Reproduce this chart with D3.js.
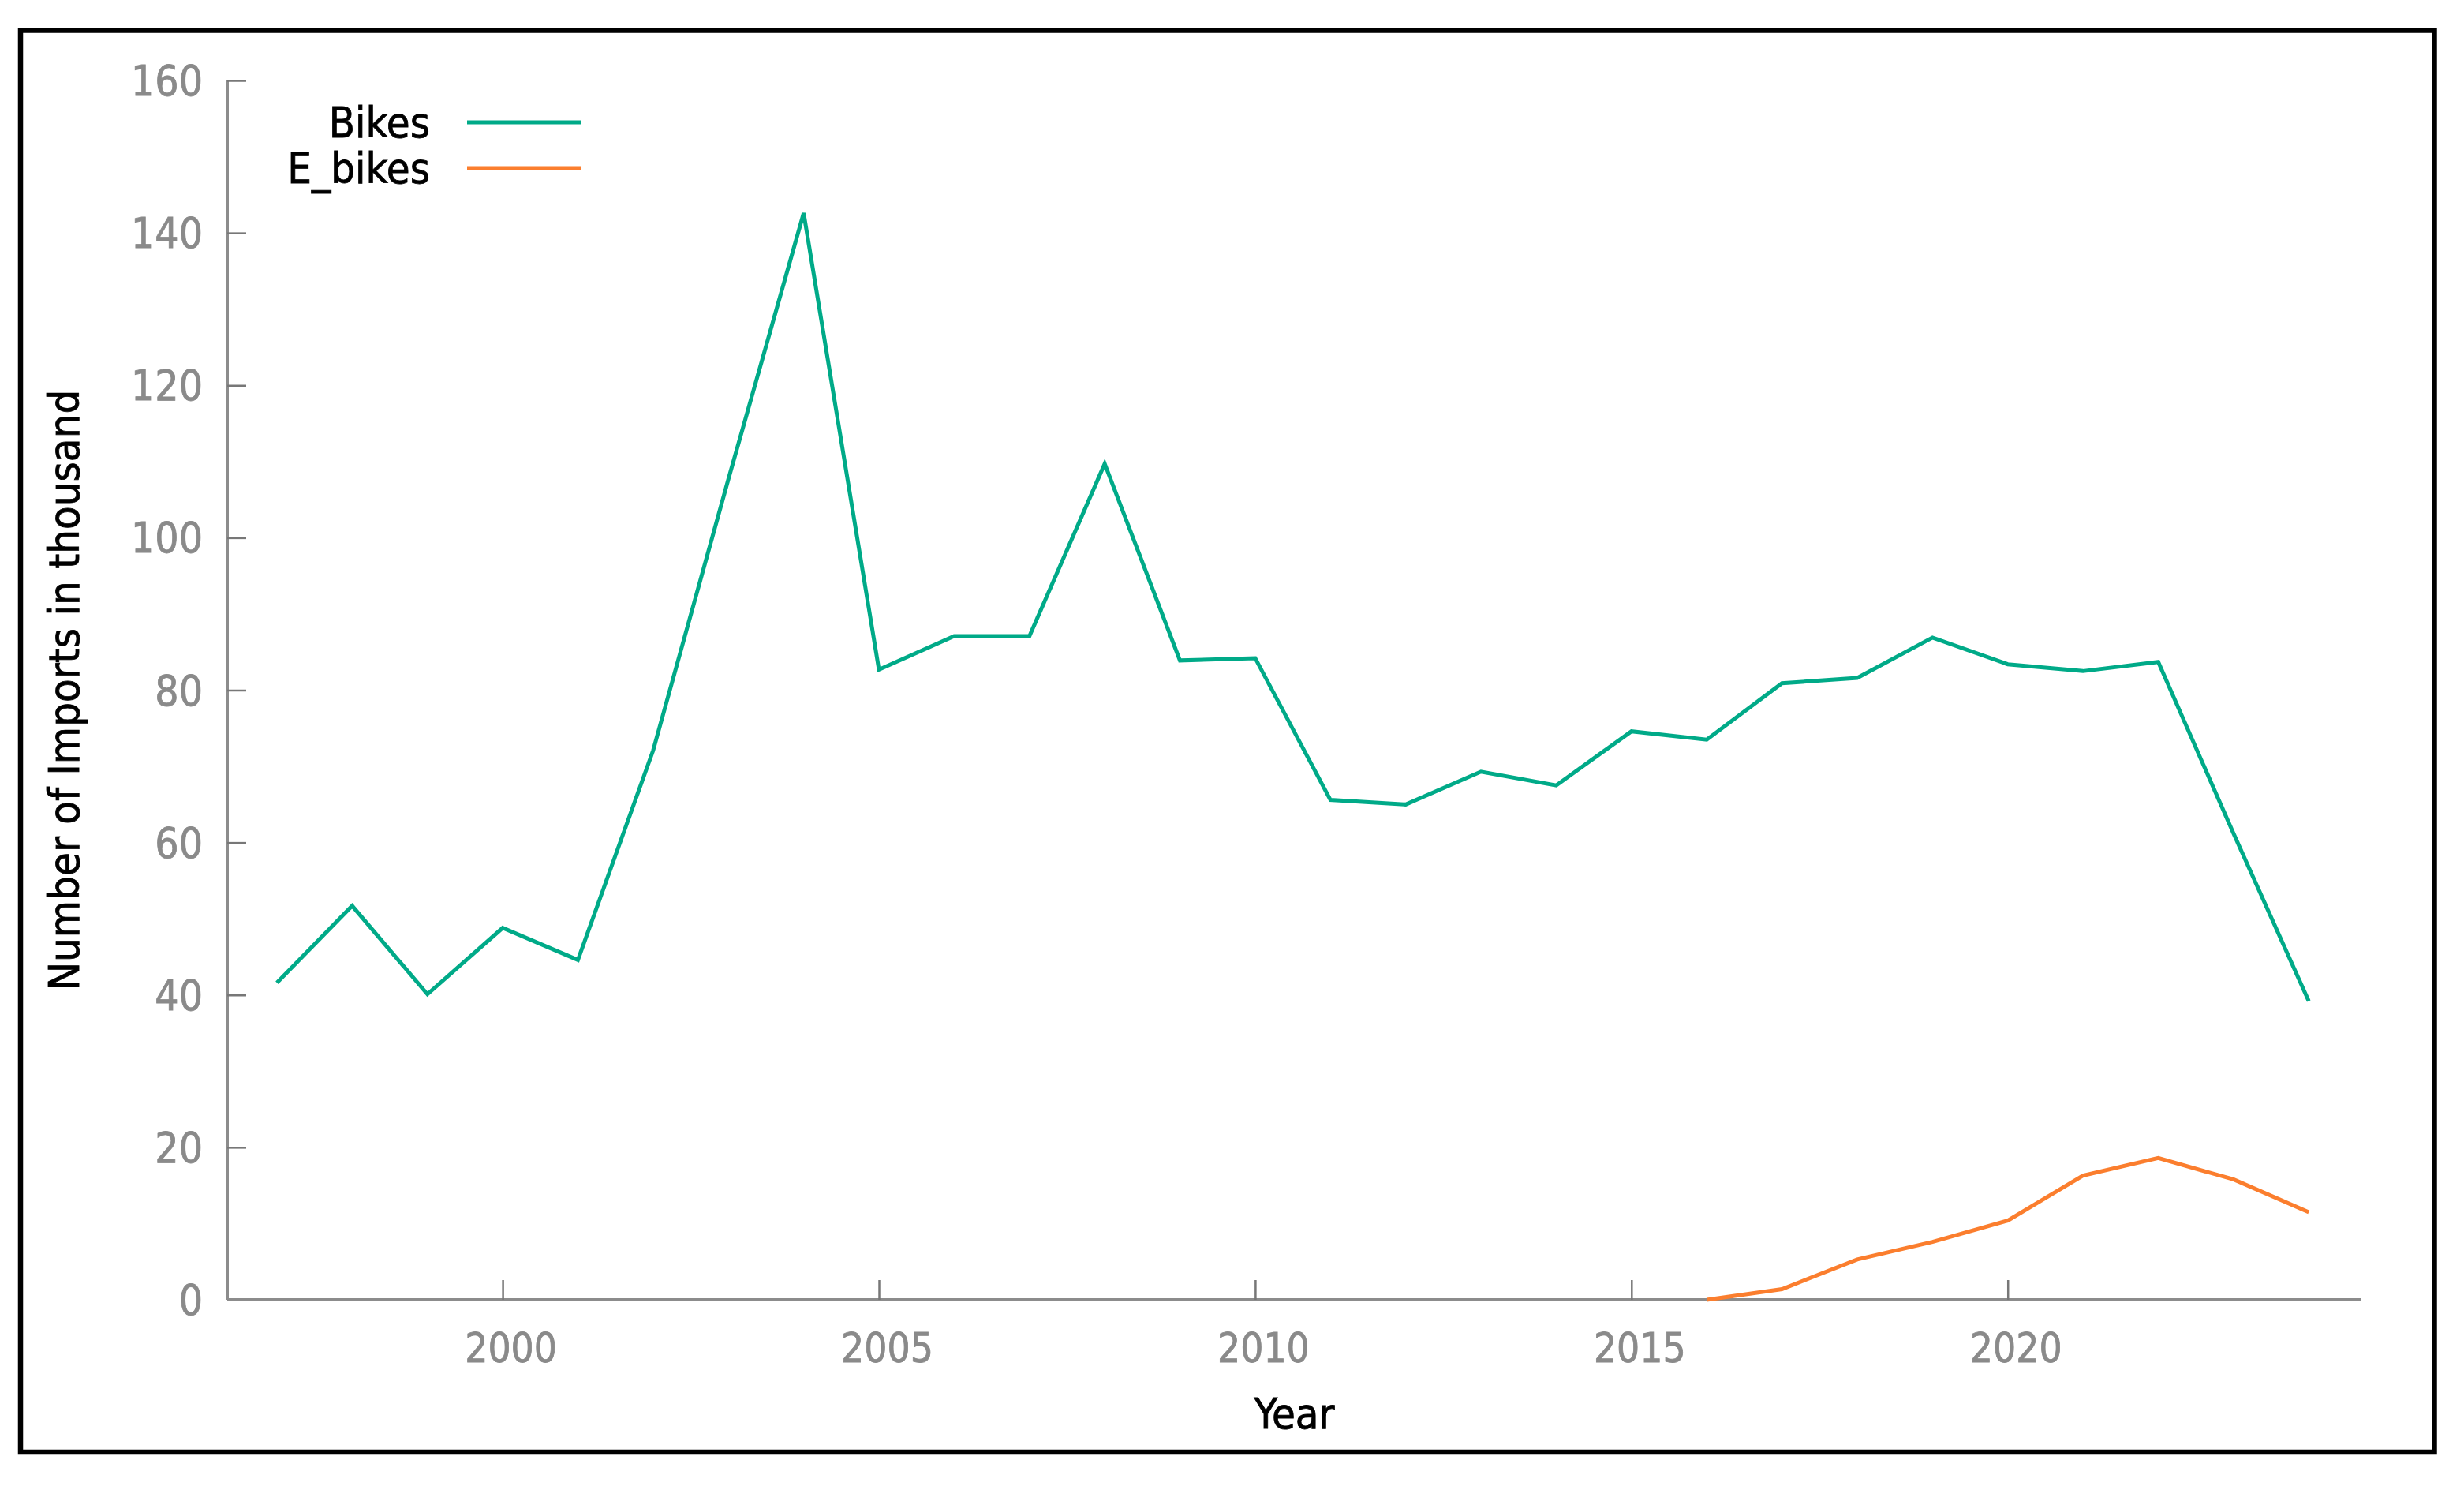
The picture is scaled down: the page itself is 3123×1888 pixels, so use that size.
<!DOCTYPE html>
<html><head><meta charset="utf-8">
<script src="https://cdn.jsdelivr.net/npm/d3@7"></script>
<style>
html,body{margin:0;padding:0;background:#fff;}
svg text{font-family:'DejaVu Sans Condensed','DejaVu Sans',sans-serif;font-stretch:condensed;}
</style>
</head><body>
<svg id="chart" width="3123" height="1888"></svg>
<script>
const years = [1997,1998,1999,2000,2001,2002,2003,2004,2005,2006,2007,2008,2009,2010,2011,2012,2013,2014,2015,2016,2017,2018,2019,2020,2021,2022,2023,2024];
const bikes = [41.6,51.7,40.1,48.8,44.6,72.1,107.7,142.6,82.7,87.1,87.1,109.7,83.9,84.2,65.6,65.0,69.3,67.5,74.6,73.5,80.9,81.6,86.9,83.4,82.5,83.7,61.2,39.2];
const eYears = [2016,2017,2018,2019,2020,2021,2022,2023,2024];
const eBikes = [0,1.4,5.3,7.6,10.4,16.3,18.6,15.8,11.5];
const xTicks = [2000,2005,2010,2015,2020];
const yTicks = [0,20,40,60,80,100,120,140,160];
const seriesNames = ["Bikes","E_bikes"];
const seriesColors = ["#00aa88","#fb7e2e"];

const svg = d3.select("#chart");
const L = 288, R = 2993, T = 102, B = 1647;
const x = d3.scaleLinear().domain([1996.34, 2024.7]).range([L, R]);
const y = d3.scaleLinear().domain([0, 160]).range([B, T]);

// frame
svg.append("rect").attr("x",26).attr("y",38.5).attr("width",3085.5-26).attr("height",1840-38.5)
  .attr("fill","none").attr("stroke","#000").attr("stroke-width",6.5);

const axisColor = "#8c8c8c";
const yAxis = svg.append("g").attr("transform",`translate(${L},0)`)
  .call(d3.axisLeft(y).tickValues(yTicks).tickSize(-24).tickPadding(55).tickSizeOuter(0));
const xAxis = svg.append("g").attr("transform",`translate(0,${B})`)
  .call(d3.axisBottom(x).tickValues(xTicks).tickFormat(d3.format("d")).tickSize(-25).tickPadding(42).tickSizeOuter(0));
[yAxis,xAxis].forEach(g=>{
  g.select(".domain").attr("stroke",axisColor).attr("stroke-width",4);
  g.selectAll(".tick line").attr("stroke","#777").attr("stroke-width",2.5);
  g.selectAll(".tick text").attr("fill","#8a8a8a").attr("stroke","#8a8a8a").attr("stroke-width",0.8);
});
yAxis.selectAll(".tick text").attr("x",-31).attr("dy","0.35em").attr("font-size",53);
yAxis.select(".domain").attr("d",`M0,${T}V${B}`);
xAxis.select(".domain").attr("d",`M${L},0H${R}`);
xAxis.selectAll(".tick text").attr("dy","0.72em").attr("dx",10).attr("font-size",51);

// axis titles
svg.append("text").attr("x",(L+R)/2).attr("y",1810).attr("text-anchor","middle")
  .attr("font-size",54).attr("fill","#000").attr("stroke","#000").attr("stroke-width",0.8).text("Year");
svg.append("text").attr("transform",`translate(100,${(T+B)/2}) rotate(-90)`).attr("text-anchor","middle")
  .attr("font-size",54).attr("fill","#000").attr("stroke","#000").attr("stroke-width",0.8).text("Number of Imports in thousand");

// lines
const line = d3.line().x(d=>x(d[0])).y(d=>y(d[1]));
const data = [years.map((yr,i)=>[yr,bikes[i]]), eYears.map((yr,i)=>[yr,eBikes[i]])];
data.forEach((d,i)=>{
  svg.append("path").datum(d).attr("d",line).attr("fill","none")
    .attr("stroke",seriesColors[i]).attr("stroke-width",5).attr("stroke-linejoin","miter");
});

// legend
const legY = [155, 213];
seriesNames.forEach((n,i)=>{
  svg.append("text").attr("x",545).attr("y",legY[i]).attr("dy","0.35em").attr("text-anchor","end")
    .attr("font-size",54).attr("fill","#000").attr("stroke","#000").attr("stroke-width",0.8).text(n);
  svg.append("line").attr("x1",592).attr("x2",737).attr("y1",legY[i]).attr("y2",legY[i])
    .attr("stroke",seriesColors[i]).attr("stroke-width",5);
});
</script>
</body></html>
